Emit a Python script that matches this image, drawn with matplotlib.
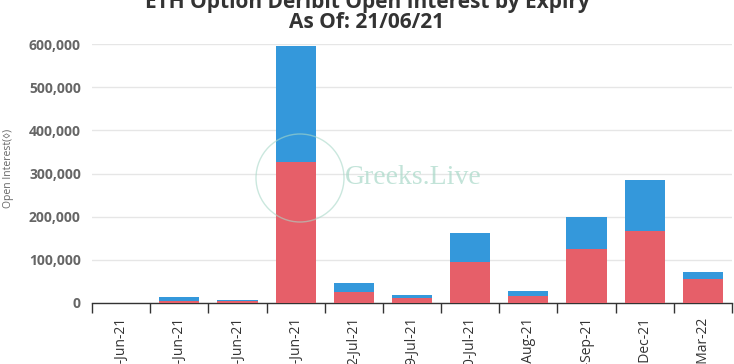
import matplotlib
matplotlib.use("Agg")
import matplotlib.pyplot as plt
from matplotlib.patches import Circle
from matplotlib.ticker import FuncFormatter, FixedLocator

expiries = ["22-Jun-21", "23-Jun-21", "24-Jun-21", "25-Jun-21", "2-Jul-21", "9-Jul-21",
            "30-Jul-21", "27-Aug-21", "24-Sep-21", "31-Dec-21", "25-Mar-22"]
puts = [0, 5000, 4000, 327000, 26000, 11000, 94000, 16000, 124000, 167000, 55000]
calls = [0, 9000, 3500, 268000, 21000, 7500, 69000, 11000, 74500, 118000, 16000]
yticks = [0, 100000, 200000, 300000, 400000, 500000, 600000]

red = "#E65F69"
blue = "#3498DB"

fig = plt.figure(figsize=(7.34, 3.64), dpi=100)
ax = fig.add_axes([92/734, 1-303/364, (732-92)/734, (303-44)/364])

x = list(range(len(expiries)))
ax.bar(x, puts, width=0.69, color=red, zorder=3)
ax.bar(x, calls, width=0.69, bottom=puts, color=blue, zorder=3)

ax.set_xlim(-0.5, len(expiries) - 0.5)
ax.set_ylim(0, 600000)
ax.set_yticks(yticks)
ax.yaxis.set_major_formatter(FuncFormatter(lambda v, p: f"{int(v):,}"))
ax.grid(axis="y", color="#E6E6E6", linewidth=1, zorder=0)
for s in ["top", "right", "left"]:
    ax.spines[s].set_visible(False)
ax.spines["bottom"].set_color("#333333")
ax.spines["bottom"].set_linewidth(1)

ax.set_xticks(x)
ax.set_xticklabels(expiries, rotation=90, fontsize=10, color="#333333", family="Open Sans")
ax.tick_params(axis="x", which="major", length=0, pad=10)
ax.xaxis.set_minor_locator(FixedLocator([i - 0.5 for i in range(len(expiries) + 1)]))
ax.tick_params(axis="x", which="minor", length=7, color="#333333", width=1)
ax.tick_params(axis="y", length=0, pad=8)
for lab in ax.get_yticklabels():
    lab.set_fontsize(10)
    lab.set_fontweight("bold")
    lab.set_color("#666666")
    lab.set_family("Open Sans")

fig.text(0.012, 1-168/364, "Open Interest(\u25CA)", rotation=90, fontsize=7.5,
         color="#666666", ha="center", va="center", family="Open Sans")

fig.text(0.5, 1-8/364, "ETH Option Deribit Open Interest by Expiry", fontsize=15,
         fontweight="bold", color="#333333", ha="center", va="baseline", family="Open Sans")
fig.text(0.5, 1-28/364, "As Of: 21/06/21", fontsize=15,
         fontweight="bold", color="#333333", ha="center", va="baseline", family="Open Sans")

# watermark
circ = Circle((300, 364-178), 44, transform=None, fill=False, edgecolor="#A8D8C8",
              linewidth=1, alpha=0.6, zorder=5)
fig.add_artist(circ)
fig.text(345/734, 1-178/364, "Greeks.Live", fontsize=20, color="#A8D8C8", alpha=0.7,
         family="Liberation Serif", ha="left", va="center", zorder=5)

fig.savefig("out.png", dpi=100)
